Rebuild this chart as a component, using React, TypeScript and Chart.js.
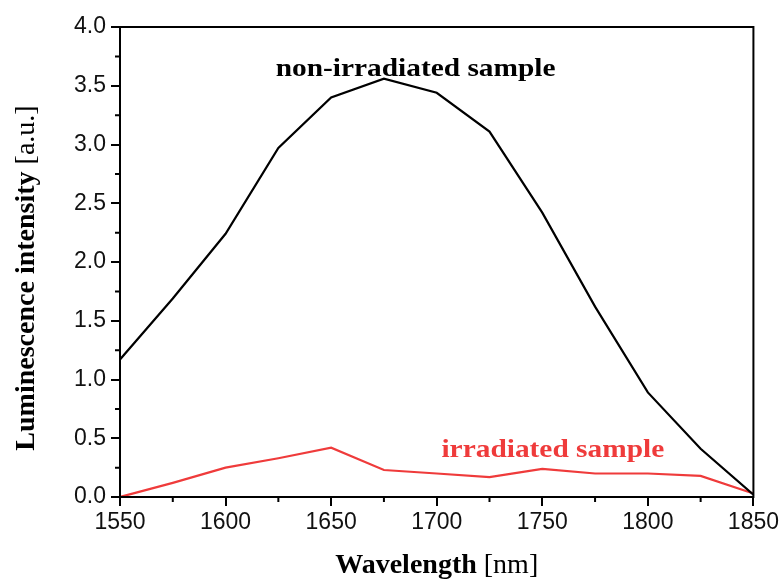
import React, { useEffect, useRef } from 'react';
import { Chart, registerables } from 'chart.js';

Chart.register(...registerables);

const wavelengths = [1550, 1575, 1600, 1625, 1650, 1675, 1700, 1725, 1750, 1775, 1800, 1825, 1850];
const nonIrradiated = [1.17, 1.69, 2.24, 2.97, 3.4, 3.56, 3.44, 3.11, 2.42, 1.62, 0.89, 0.41, 0.02];
const irradiated = [0.0, 0.12, 0.25, 0.33, 0.42, 0.23, 0.2, 0.17, 0.24, 0.2, 0.2, 0.18, 0.03];
const xMinorTicks = [1575, 1625, 1675, 1725, 1775, 1825];
const yMinorTicks = [0.25, 0.75, 1.25, 1.75, 2.25, 2.75, 3.25, 3.75];

const xTitleBold = 'Wavelength';
const xTitleNormal = ' [nm]';
const yTitleBold = 'Luminescence intensity';
const yTitleNormal = ' [a.u.]';
const labelNon = 'non-irradiated sample';
const labelIrr = 'irradiated sample';
const labelNonPos = [1690, 3.58];
const labelIrrPos = [1755, 0.34];

const BLACK = '#000000';
const RED = '#ef3b3b';

const decorPlugin = {
  id: 'decor',
  afterDraw(chart: any) {
    const { ctx, chartArea, scales } = chart;
    const xs = scales.x;
    const ys = scales.y;
    ctx.save();
    // frame
    ctx.strokeStyle = '#000';
    ctx.lineWidth = 2;
    ctx.strokeRect(chartArea.left, chartArea.top, chartArea.right - chartArea.left, chartArea.bottom - chartArea.top);
    // minor ticks
    ctx.lineWidth = 2;
    ctx.beginPath();
    for (const v of xMinorTicks) {
      const px = xs.getPixelForValue(v);
      ctx.moveTo(px, chartArea.bottom);
      ctx.lineTo(px, chartArea.bottom + 5);
    }
    for (const v of yMinorTicks) {
      const py = ys.getPixelForValue(v);
      ctx.moveTo(chartArea.left, py);
      ctx.lineTo(chartArea.left - 5, py);
    }
    ctx.stroke();

    // x title
    ctx.fillStyle = '#000';
    ctx.textBaseline = 'alphabetic';
    ctx.textAlign = 'left';
    const boldF = 'bold 28px "Liberation Serif", serif';
    const normF = '28px "Liberation Serif", serif';
    ctx.font = boldF;
    const xb = ctx.measureText(xTitleBold).width;
    ctx.font = normF;
    const xn = ctx.measureText(xTitleNormal).width;
    const xc = (chartArea.left + chartArea.right) / 2;
    const sx = xc - (xb + xn) / 2;
    ctx.font = boldF;
    ctx.fillText(xTitleBold, sx, 573);
    ctx.font = normF;
    ctx.fillText(xTitleNormal, sx + xb, 573);

    // y title
    ctx.save();
    ctx.translate(34, 278);
    ctx.rotate(-Math.PI / 2);
    ctx.font = boldF;
    const yb = ctx.measureText(yTitleBold).width;
    ctx.font = normF;
    const yn = ctx.measureText(yTitleNormal).width;
    const sy = -(yb + yn) / 2;
    ctx.font = boldF;
    ctx.fillText(yTitleBold, sy, 0);
    ctx.font = normF;
    ctx.fillText(yTitleNormal, sy + yb, 0);
    ctx.restore();

    // annotations
    const drawLabel = (text: string, pos: number[], color: string) => {
      ctx.save();
      ctx.font = 'bold 26px "Liberation Serif", serif';
      ctx.fillStyle = color;
      ctx.textAlign = 'center';
      ctx.textBaseline = 'alphabetic';
      ctx.translate(xs.getPixelForValue(pos[0]), ys.getPixelForValue(pos[1]));
      ctx.scale(1.13, 1);
      ctx.fillText(text, 0, 0);
      ctx.restore();
    };
    drawLabel(labelNon, labelNonPos, BLACK);
    drawLabel(labelIrr, labelIrrPos, RED);
    ctx.restore();
  },
};

export default function App() {
  const ref = useRef<HTMLCanvasElement | null>(null);
  useEffect(() => {
    document.body.style.margin = '0';
    const canvas = ref.current;
    if (!canvas) return;
    const chart = new Chart(canvas, {
      type: 'line',
      data: {
        labels: wavelengths,
        datasets: [
          {
            label: 'non-irradiated sample',
            data: wavelengths.map((x, i) => ({ x, y: nonIrradiated[i] })),
            borderColor: BLACK,
            borderWidth: 2.2,
            pointRadius: 0,
            tension: 0,
            fill: false,
          },
          {
            label: 'irradiated sample',
            data: wavelengths.map((x, i) => ({ x, y: irradiated[i] })),
            borderColor: RED,
            borderWidth: 2.2,
            pointRadius: 0,
            tension: 0,
            fill: false,
          },
        ],
      },
      options: {
        responsive: false,
        animation: false,
        layout: { padding: { top: 27, right: 26, left: 0, bottom: 0 } },
        plugins: {
          legend: { display: false },
          tooltip: { enabled: false },
        },
        scales: {
          x: {
            type: 'linear',
            min: 1550,
            max: 1850,
            afterFit: (s: any) => {
              s.height = 85;
            },
            ticks: {
              stepSize: 50,
              color: '#111',
              padding: 3,
              font: { family: '"Liberation Sans", Arial, sans-serif', size: 23 },
              callback: (v: any) => String(v),
            },
            grid: {
              drawOnChartArea: false,
              drawTicks: true,
              tickLength: 9,
              color: '#000',
              lineWidth: 2,
            },
            border: { display: false },
          },
          y: {
            type: 'linear',
            min: 0,
            max: 4,
            afterFit: (s: any) => {
              s.width = 120;
            },
            ticks: {
              stepSize: 0.5,
              color: '#111',
              padding: 5,
              font: { family: '"Liberation Sans", Arial, sans-serif', size: 23 },
              callback: (v: any) => Number(v).toFixed(1),
            },
            grid: {
              drawOnChartArea: false,
              drawTicks: true,
              tickLength: 9,
              color: '#000',
              lineWidth: 2,
            },
            border: { display: false },
          },
        },
      },
      plugins: [decorPlugin],
    } as any);
    return () => chart.destroy();
  }, []);
  return (
    <div style={{ position: 'absolute', left: 0, top: 0, width: 782, height: 582 }}>
      <canvas ref={ref} width={782} height={582} />
    </div>
  );
}
